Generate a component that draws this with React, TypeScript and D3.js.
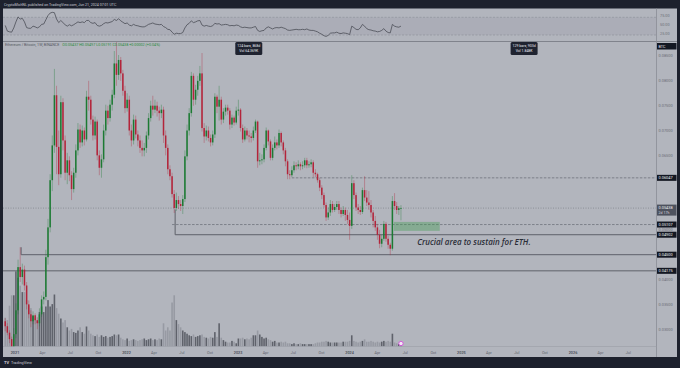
import React from 'react';
import * as d3 from 'd3';

// ---------- DATA (ETH/BTC weekly, Binance) ----------
const firstWeek = Date.UTC(2020, 10, 30); // Monday of first visible weekly bar
const weekMs = 7 * 24 * 3600 * 1000;
const firstOpen = 0.0316;

const closes = [
  0.0306, 0.0293, 0.0280, 0.0262, 0.0290, 0.0338, 0.0425, 0.0405, 0.0420, 0.0388,
  0.0350, 0.0330, 0.0316, 0.0328, 0.0318, 0.0312, 0.0330, 0.0360, 0.0365, 0.0445,
  0.0505, 0.0600, 0.0670, 0.0771, 0.0667, 0.0612, 0.0757, 0.0680, 0.0615, 0.0640,
  0.0610, 0.0582, 0.0615, 0.0660, 0.0702, 0.0676, 0.0700, 0.0682, 0.0768, 0.0762,
  0.0722, 0.0690, 0.0718, 0.0650, 0.0625, 0.0642, 0.0700, 0.0740, 0.0725, 0.0752,
  0.0772, 0.0835, 0.0812, 0.0842, 0.0815, 0.0780, 0.0745, 0.0762, 0.0700, 0.0680,
  0.0722, 0.0692, 0.0680, 0.0665, 0.0660, 0.0665, 0.0690, 0.0725, 0.0750, 0.0742,
  0.0750, 0.0740, 0.0735, 0.0742, 0.0690, 0.0665, 0.0622, 0.0608, 0.0572, 0.0544,
  0.0560, 0.0552, 0.0548, 0.0562, 0.0648, 0.0700, 0.0735, 0.0810, 0.0762, 0.0782,
  0.0800, 0.0815, 0.0705, 0.0688, 0.0700, 0.0685, 0.0676, 0.0692, 0.0768, 0.0748,
  0.0762, 0.0722, 0.0738, 0.0746, 0.0740, 0.0712, 0.0726, 0.0716, 0.0740, 0.0742,
  0.0705, 0.0682, 0.0700, 0.0690, 0.0688, 0.0685, 0.0700, 0.0718, 0.0638, 0.0640,
  0.0642, 0.0665, 0.0700, 0.0678, 0.0645, 0.0665, 0.0676, 0.0670, 0.0695, 0.0676,
  0.0660, 0.0638, 0.0612, 0.0610, 0.0620, 0.0630, 0.0628, 0.0632, 0.0628, 0.0630,
  0.0640, 0.0630, 0.0632, 0.0636, 0.0615, 0.0612, 0.0600, 0.0585, 0.0570, 0.0550,
  0.0525, 0.0535, 0.0552, 0.0540, 0.0546, 0.0552, 0.0540, 0.0532, 0.0540, 0.0530,
  0.0520, 0.0508, 0.0594, 0.0570, 0.0545, 0.0540, 0.0536, 0.0580, 0.0565, 0.0555,
  0.0550, 0.0535, 0.0518, 0.0505, 0.0490, 0.0472, 0.0482, 0.0512, 0.0482, 0.0470,
  0.0462, 0.0558, 0.0548, 0.0540, 0.05436, 0.05438,
];

const highs = [
  0.0322, 0.0312, 0.0298, 0.0285, 0.0302, 0.0352, 0.0440, 0.0465, 0.0432, 0.0428,
  0.0395, 0.0358, 0.0338, 0.0336, 0.0332, 0.0324, 0.0342, 0.0368, 0.0376, 0.0460,
  0.0522, 0.0612, 0.0690, 0.0824, 0.0790, 0.0700, 0.0770, 0.0765, 0.0690, 0.0655,
  0.0648, 0.0618, 0.0625, 0.0672, 0.0715, 0.0712, 0.0710, 0.0706, 0.0780, 0.0800,
  0.0770, 0.0730, 0.0728, 0.0722, 0.0660, 0.0652, 0.0712, 0.0752, 0.0750, 0.0762,
  0.0782, 0.0860, 0.0878, 0.0852, 0.0848, 0.0822, 0.0790, 0.0775, 0.0770, 0.0712,
  0.0732, 0.0730, 0.0700, 0.0690, 0.0680, 0.0675, 0.0698, 0.0735, 0.0760, 0.0770,
  0.0762, 0.0758, 0.0748, 0.0752, 0.0748, 0.0700, 0.0672, 0.0630, 0.0615, 0.0580,
  0.0575, 0.0568, 0.0560, 0.0570, 0.0660, 0.0712, 0.0745, 0.0818, 0.0815, 0.0792,
  0.0810, 0.0830, 0.0856, 0.0715, 0.0710, 0.0708, 0.0692, 0.0700, 0.0775, 0.0772,
  0.0790, 0.0768, 0.0745, 0.0752, 0.0752, 0.0745, 0.0732, 0.0730, 0.0748, 0.0762,
  0.0745, 0.0712, 0.0708, 0.0705, 0.0700, 0.0695, 0.0708, 0.0722, 0.0720, 0.0655,
  0.0652, 0.0672, 0.0706, 0.0702, 0.0682, 0.0672, 0.0688, 0.0682, 0.0702, 0.0698,
  0.0680, 0.0665, 0.0642, 0.0620, 0.0628, 0.0638, 0.0636, 0.0640, 0.0636, 0.0638,
  0.0645, 0.0645, 0.0638, 0.0642, 0.0640, 0.0622, 0.0615, 0.0605, 0.0590, 0.0575,
  0.0555, 0.0545, 0.0560, 0.0558, 0.0552, 0.0558, 0.0558, 0.0545, 0.0548, 0.0545,
  0.0540, 0.0535, 0.0610, 0.0600, 0.0575, 0.0552, 0.0548, 0.0585, 0.0608, 0.0580,
  0.0578, 0.0560, 0.0540, 0.0528, 0.0512, 0.0500, 0.0490, 0.0518, 0.0516, 0.0488,
  0.0474, 0.0568, 0.0574, 0.0556, 0.0548, 0.05497,
];

const lows = [
  0.0296, 0.0288, 0.0272, 0.0250, 0.0252, 0.0282, 0.0330, 0.0395, 0.0390, 0.0378,
  0.0340, 0.0322, 0.0304, 0.0310, 0.0310, 0.0300, 0.0306, 0.0325, 0.0350, 0.0358,
  0.0430, 0.0495, 0.0578, 0.0655, 0.0612, 0.0590, 0.0605, 0.0660, 0.0600, 0.0592,
  0.0598, 0.0560, 0.0575, 0.0605, 0.0650, 0.0665, 0.0668, 0.0670, 0.0678, 0.0740,
  0.0712, 0.0680, 0.0682, 0.0640, 0.0610, 0.0605, 0.0636, 0.0690, 0.0712, 0.0718,
  0.0740, 0.0765, 0.0790, 0.0802, 0.0800, 0.0770, 0.0735, 0.0738, 0.0690, 0.0668,
  0.0672, 0.0684, 0.0668, 0.0655, 0.0648, 0.0648, 0.0655, 0.0682, 0.0718, 0.0730,
  0.0735, 0.0728, 0.0720, 0.0725, 0.0675, 0.0650, 0.0612, 0.0600, 0.0565, 0.0534,
  0.0538, 0.0542, 0.0538, 0.0532, 0.0556, 0.0640, 0.0690, 0.0728, 0.0750, 0.0752,
  0.0770, 0.0790, 0.0698, 0.0675, 0.0680, 0.0678, 0.0668, 0.0670, 0.0685, 0.0735,
  0.0720, 0.0712, 0.0715, 0.0730, 0.0732, 0.0702, 0.0705, 0.0710, 0.0712, 0.0730,
  0.0698, 0.0675, 0.0678, 0.0682, 0.0676, 0.0676, 0.0680, 0.0695, 0.0625, 0.0630,
  0.0632, 0.0636, 0.0660, 0.0670, 0.0640, 0.0640, 0.0660, 0.0662, 0.0665, 0.0668,
  0.0652, 0.0628, 0.0602, 0.0602, 0.0606, 0.0615, 0.0620, 0.0622, 0.0620, 0.0622,
  0.0625, 0.0624, 0.0625, 0.0626, 0.0606, 0.0606, 0.0595, 0.0578, 0.0562, 0.0545,
  0.0518, 0.0520, 0.0528, 0.0535, 0.0536, 0.0540, 0.0532, 0.0525, 0.0528, 0.0518,
  0.0512, 0.0480, 0.0502, 0.0562, 0.0538, 0.0532, 0.0530, 0.0532, 0.0558, 0.0548,
  0.0540, 0.0525, 0.0505, 0.0498, 0.0480, 0.0463, 0.0465, 0.0478, 0.0476, 0.0462,
  0.0449, 0.0458, 0.0540, 0.0532, 0.0530, 0.05191,
];

const volumes = [
  36, 33, 51, 64, 64, 94, 86, 76, 68, 68,
  58, 51, 48, 38, 35, 33, 43, 50, 43, 50,
  58, 50, 53, 65, 48, 41, 35, 30, 33, 24,
  20, 22, 18, 17, 20, 24, 18, 16, 25, 20,
  16, 14, 13, 15, 12, 14, 12, 13, 11, 12,
  13, 15, 14, 15, 11, 9, 8, 10, 7, 8,
  9, 8, 7, 8, 9, 10, 8, 9, 10, 8,
  9, 8, 10, 9, 29, 20, 24, 20, 55, 64,
  33, 28, 24, 20, 18, 16, 14, 13, 15, 12,
  13, 14, 15, 12, 11, 10, 12, 11, 18, 12,
  29, 11, 8, 6, 5, 5, 7, 6, 4, 10,
  10, 11, 9, 10, 9, 11, 14, 14, 20, 15,
  12, 10, 11, 9, 8, 6, 7, 5, 5, 6,
  5, 6, 4, 4, 3, 4, 3, 3, 4, 3,
  3, 3, 3, 3, 3, 4, 5, 5, 6, 6,
  7, 6, 5, 5, 5, 5, 5, 5, 6, 6,
  6, 7, 14, 7, 6, 5, 6, 7, 9, 6,
  6, 7, 6, 5, 6, 5, 6, 7, 6, 7,
  6, 16, 5, 4, 3, 2,
];

const rsiValues = [
  52, 36, 34, 33, 45, 62, 76, 70, 72, 62,
  46, 44, 44, 50, 48, 45, 48, 55, 56, 68,
  80, 87, 89, 88, 70, 60, 66, 60, 54, 50,
  54, 51, 54, 58, 62, 60, 62, 60, 66, 66,
  60, 58, 60, 52, 50, 52, 57, 60, 59, 61,
  63, 69, 66, 71, 65, 61, 57, 59, 53, 51,
  55, 52, 51, 49, 48, 48, 51, 55, 57, 59,
  56, 55, 54, 55, 49, 46, 41, 40, 33, 27,
  30, 29, 29, 32, 45, 54, 58, 65, 60, 62,
  65, 66, 53, 50, 52, 50, 49, 51, 58, 56,
  57, 53, 54, 55, 54, 51, 52, 51, 53, 52,
  48, 46, 47, 46, 45, 45, 47, 49, 38, 35,
  37, 38, 45, 48, 45, 42, 45, 46, 45, 47,
  45, 43, 39, 38, 39, 40, 41, 40, 40, 41,
  40, 42, 39, 38, 38, 36, 34, 30, 27, 23,
  21, 24, 30, 31, 31, 33, 30, 29, 31, 30,
  29, 26, 50, 46, 41, 40, 45, 55, 50, 43,
  40, 39, 37, 36, 34, 35, 38, 43, 36, 32,
  31, 55, 50, 48, 47, 50,
];

const priceTicks = [0.085, 0.08, 0.075, 0.07, 0.065, 0.06, 0.055, 0.05, 0.045, 0.04, 0.035, 0.03];
const rsiTicks = [75, 50, 25];
const levelPrices = [0.06047, 0.05107, 0.04902, 0.045, 0.04175];
const levelStarts = ['2023-06-26', '2022-05-30', '2022-06-09', '2021-01-21', '2020-11-01'];
const levelStyles = ['dash', 'dash', 'solid', 'solid', 'solid'];
const levelAnchors = [null, null, 0.0541, 0.0465, null];
const lastPrice = 0.05438;
const legendName = 'Ethereum / Bitcoin, 1W, BINANCE';
const legendValues = 'O0.05437 H0.05497 L0.05191 C0.05438 +0.00002 (+0.04%)';
const headerText = 'CryptoMichNL published on TradingView.com, Jun 21, 2024 07:01 UTC';
const measureLabels = [
  { date: '2023-02-05', l1: '124 bars, 868d', l2: 'Vol 64.369K' },
  { date: '2025-07-25', l1: '129 bars, 903d', l2: 'Vol 1.848K' },
];
const zone = { from: '2024-05-25', to: '2024-10-22', top: 0.0516, bottom: 0.0498 };
const noteText = 'Crucial area to sustain for ETH.';
const noteAt = { date: '2024-08-09', price: 0.0470 };

// ---------- LAYOUT ----------
const W = 680, H = 368;
const L = 3, R = 656.5, AX = 677;
const RSI_T = 8.5, RSI_B = 41.5, MAIN_T = 42, MAIN_B = 346.5, TIME_B = 357;
const FONT = "Roboto, 'Liberation Sans', Arial, sans-serif";
const BG = '#b2b5bd';
const DARK = '#1d212d';
const UP = '#1c7a33';
const DOWN = '#b3243a';

const d = (s: string) => new Date(s + 'T00:00:00Z');

export default function App() {
  const x = d3.scaleUtc().domain([d('2021-01-01'), d('2026-01-01')]).range([15, 573]);
  const y = d3.scaleLinear().domain([0.03, 0.085]).range([329.2, 56]);
  const ry = d3.scaleLinear().domain([25, 75]).range([35, 17.3]);
  const vy = d3.scaleLinear().domain([0, 100]).range([MAIN_B, MAIN_B - 80]);
  const fmt = d3.format('.5f');

  const bars = closes.map((c, i) => {
    const date = new Date(firstWeek + i * weekMs);
    const o = i === 0 ? firstOpen : closes[i - 1];
    return { date, o, h: highs[i], l: lows[i], c, v: volumes[i], r: rsiValues[i] };
  });

  const rsiLine = d3.line<any>().x((b) => x(b.date)).y((b) => ry(b.r))(bars) || '';

  const months = d3.utcMonth.every(3)!.range(d('2021-01-01'), d('2026-08-01'));
  const monthName = d3.utcFormat('%b');

  // gray axis ticks that sit under a highlighted price box are hidden (as on the chart)
  const boxed = [...levelPrices, lastPrice];
  const visibleTicks = priceTicks.filter((t) => boxed.every((p) => Math.abs(y(t) - y(p)) > 3.5));

  const bodyW = 1.5;
  const volW = 1.6;

  return (
    <div style={{ position: 'absolute', left: 0, top: 0, width: W, height: H }}>
      <svg width={W} height={H} style={{ display: 'block' }} fontFamily={FONT}>
        <defs>
          <clipPath id="mainClip"><rect x={L} y={MAIN_T} width={R - L} height={MAIN_B - MAIN_T} /></clipPath>
          <clipPath id="rsiClip"><rect x={L} y={RSI_T} width={R - L} height={RSI_B - RSI_T} /></clipPath>
        </defs>
        <rect x={0} y={0} width={W} height={H} fill={DARK} />
        <rect x={L} y={RSI_T} width={AX - L} height={TIME_B - RSI_T} fill={BG} />
        <text x={4} y={5.6} fontSize={3.6} fill="#c9ccd4">{headerText}</text>

        {/* RSI pane */}
        <rect x={L} y={ry(75)} width={R - L} height={ry(25) - ry(75)} fill="#5a5f78" opacity={0.08} />
        {rsiTicks.filter((t) => t !== 50).map((t) => (
          <line key={t} x1={L} x2={R} y1={ry(t)} y2={ry(t)} stroke="#8c8f98" strokeWidth={0.6} strokeDasharray="2 1.5" />
        ))}
        <g clipPath="url(#rsiClip)">
          <path d={rsiLine} fill="none" stroke="#4b4e57" strokeWidth={0.8} />
        </g>
        {rsiTicks.map((t) => (
          <text key={t} x={660} y={ry(t) - 0.5} fontSize={3.8} fill="#6b6e78">{t.toFixed(2)}</text>
        ))}
        <line x1={L} x2={AX} y1={RSI_B} y2={RSI_B} stroke="#80838c" strokeWidth={1} />

        {/* main pane */}
        <g clipPath="url(#mainClip)">
          {/* volume */}
          {bars.map((b, i) => (
            <rect key={'v' + i} x={x(b.date) - volW / 2} y={vy(b.v)} width={volW} height={MAIN_B - vy(b.v)}
              fill={b.c >= b.o ? '#5f626b' : '#979aa3'} />
          ))}
          {/* price line */}
          <line x1={L} x2={R} y1={y(lastPrice)} y2={y(lastPrice)} stroke="#7d808a" strokeWidth={0.7} strokeDasharray="1 1.5" />
          {/* levels */}
          {levelPrices.map((p, i) => {
            const x0 = Math.max(L, x(d(levelStarts[i])));
            const dash = levelStyles[i] === 'dash';
            const a = levelAnchors[i];
            return (
              <g key={'lv' + i}>
                <line x1={x0} x2={R} y1={y(p)} y2={y(p)} stroke={dash ? '#6f727c' : '#5e616a'}
                  strokeWidth={dash ? 0.8 : 1} strokeDasharray={dash ? '2.5 1.5' : undefined} />
                {a !== null && (
                  <line x1={x0} x2={x0} y1={y(a)} y2={y(p)} stroke="#5e616a" strokeWidth={1} />
                )}
              </g>
            );
          })}
          {/* zone */}
          <rect x={x(d(zone.from))} y={y(zone.top)} width={x(d(zone.to)) - x(d(zone.from))}
            height={y(zone.bottom) - y(zone.top)} fill="#3d9a4b" opacity={0.38} />
          {/* candles */}
          {bars.map((b, i) => {
            const col = b.c >= b.o ? UP : DOWN;
            const cx = x(b.date);
            const top = y(Math.max(b.o, b.c));
            const bot = y(Math.min(b.o, b.c));
            return (
              <g key={'c' + i}>
                <line x1={cx} x2={cx} y1={y(b.h)} y2={y(b.l)} stroke={col} strokeOpacity={0.35} strokeWidth={1} />
                <rect x={cx - bodyW / 2} y={top} width={bodyW} height={Math.max(0.7, bot - top)} fill={col} />
              </g>
            );
          })}
          <text x={x(d(noteAt.date))} y={y(noteAt.price)} fontSize={8} fontStyle="italic" fontWeight={600}
            fill="#2b2e38" fontFamily="'Open Sans', 'Noto Sans', sans-serif">{noteText}</text>
          {/* event marker */}
          <circle cx={x(new Date(firstWeek + (closes.length - 1) * weekMs))} cy={MAIN_B - 3} r={2.2} fill="#f4e6f6" stroke="#d14fd8" strokeWidth={0.9} />
        </g>

        {/* legend */}
        <text x={5} y={46.3} fontSize={3.7}>
          <tspan fill="#555863">{legendName}</tspan>
          <tspan fill="#2a8a3c" dx={3}>{legendValues}</tspan>
        </text>

        {/* measure tooltips */}
        {measureLabels.map((m, i) => {
          const cx = x(d(m.date));
          return (
            <g key={'m' + i}>
              <rect x={cx - 13.5} y={42} width={27} height={13} rx={1.5} fill="#1f2330" />
              <text x={cx} y={47.3} fontSize={3.5} fill="#e6e8ee" textAnchor="middle">{m.l1}</text>
              <text x={cx} y={52.3} fontSize={3.5} fill="#e6e8ee" textAnchor="middle">{m.l2}</text>
            </g>
          );
        })}

        {/* price axis */}
        <line x1={R} x2={R} y1={RSI_T} y2={TIME_B} stroke="#8a8d96" strokeWidth={0.8} />
        {visibleTicks.map((t) => (
          <text key={t} x={658.5} y={y(t) + 1.3} fontSize={3.9} fill="#6b6e78">{fmt(t)}</text>
        ))}
        <rect x={657} y={43} width={19.5} height={6.5} fill="#131722" />
        <text x={658.5} y={47.6} fontSize={3.7} fill="#e6e8ee">BTC</text>
        {levelPrices.map((p, i) => (
          <g key={'lb' + i}>
            <rect x={657} y={y(p) - 3} width={19.5} height={6} fill="#131722" />
            <text x={658.5} y={y(p) + 1.3} fontSize={3.9} fill="#f0f2f6">{fmt(p)}</text>
          </g>
        ))}
        <rect x={657} y={y(lastPrice) - 3.5} width={19.5} height={11} fill="#4e525e" />
        <text x={658.5} y={y(lastPrice) + 1.2} fontSize={3.9} fill="#eef0f4">{fmt(lastPrice)}</text>
        <text x={658.5} y={y(lastPrice) + 6.2} fontSize={3.6} fill="#d6d8de">2d 17h</text>

        {/* time axis */}
        <line x1={L} x2={R} y1={MAIN_B} y2={MAIN_B} stroke="#9a9da6" strokeWidth={0.6} />
        {months.map((m) => {
          const isYear = m.getUTCMonth() === 0;
          return (
            <text key={m.toISOString()} x={x(m)} y={353.6} fontSize={3.8} textAnchor="middle"
              fill={isYear ? '#4d505a' : '#62656f'} fontWeight={isYear ? 600 : 400}>
              {isYear ? String(m.getUTCFullYear()) : monthName(m)}
            </text>
          );
        })}

        {/* footer */}
        <text x={4} y={364} fontSize={4} fill="#d6d8de" fontWeight={700}>TV</text>
        <text x={11} y={364} fontSize={3.8} fill="#c9ccd4">TradingView</text>
      </svg>
    </div>
  );
}
